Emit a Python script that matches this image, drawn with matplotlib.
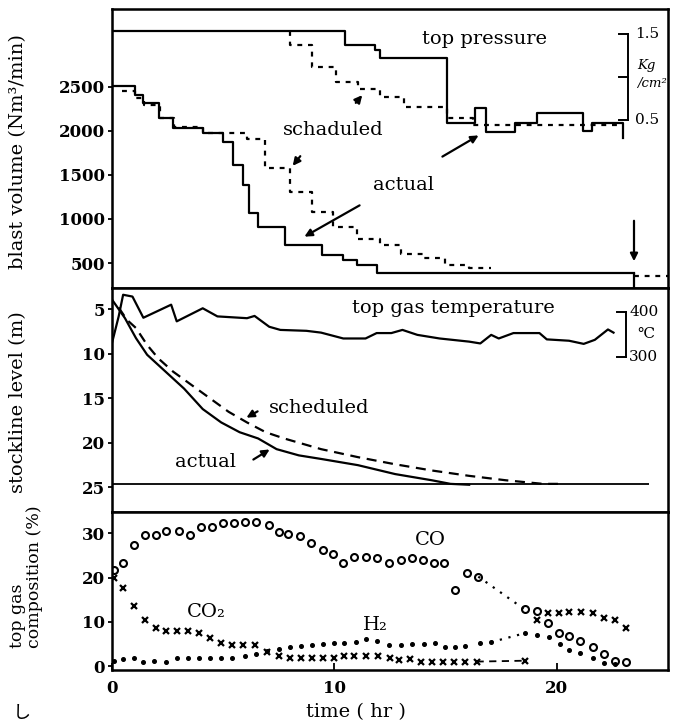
import matplotlib.pyplot as plt
from matplotlib.transforms import blended_transform_factory

plt.rcParams['font.family'] = ['DejaVu Serif', 'DejaVu Sans']

# ---- values, time in hr ----
# blast volume (Nm3/min), step changes (value holds until next time)
blast_act_t = [0, 1.03, 1.39, 2.11, 2.74, 4.09, 4.99, 5.44, 5.89, 6.15, 6.56, 7.78, 9.44, 10.39, 11.0, 11.9, 23.46]
blast_act_v = [2511, 2409, 2318, 2148, 2034, 1977, 1875, 1614, 1387, 1069, 910, 705, 591, 534, 478, 386, 386]
blast_sch_t = [0.45, 1.05, 1.45, 2.15, 2.8, 4.09, 6.07, 6.88, 8.0, 9.0, 9.94, 11.0, 12.05, 13.0, 13.98, 14.98, 16.06, 17.05]
blast_sch_v = [2455, 2380, 2290, 2150, 2040, 1977, 1909, 1580, 1307, 1080, 910, 773, 705, 600, 557, 478, 444, 444]
blast_tail_t = [23.46, 25.0]
blast_tail_v = [352, 352]

# top pressure (kg/cm2)
pres_act_t = [0, 10.48, 11.81, 12.06, 15.06, 16.31, 16.81, 18.14, 19.13, 21.2, 21.6, 22.96]
pres_act_v = [1.535, 1.372, 1.314, 1.217, 0.462, 0.636, 0.364, 0.462, 0.578, 0.376, 0.462, 0.29]
pres_sch_t = [7.99, 7.99, 8.99, 10.07, 11.06, 12.06, 13.14, 15.06, 16.22, 23.04]
pres_sch_v = [1.535, 1.372, 1.116, 0.942, 0.86, 0.767, 0.651, 0.523, 0.44, 0.44]

# stockline level (m)
stock_act_t = [0, 0.58, 1.08, 1.58, 2.41, 3.24, 4.08, 4.91, 5.74, 6.57, 7.40, 8.40, 9.40, 11.06, 12.73, 14.39, 15.22, 16.06]
stock_act_v = [3.9, 5.98, 8.24, 10.1, 12.0, 13.9, 16.2, 17.7, 18.8, 19.5, 20.7, 21.4, 21.8, 22.5, 23.5, 24.2, 24.6, 24.7]
stock_sch_t = [0.3, 0.67, 1.08, 1.58, 2.08, 2.75, 3.58, 4.41, 5.24, 6.07, 6.91, 7.74, 9.40, 11.06, 12.73, 14.39, 16.06, 17.72, 19.38, 20.05]
stock_sch_v = [4.8, 6.17, 7.1, 9.0, 10.5, 12.0, 13.5, 15.0, 16.5, 17.7, 18.8, 19.5, 20.7, 21.6, 22.4, 23.1, 23.7, 24.2, 24.6, 24.6]
stock_floor = 24.6
stock_floor_end = 24.13

# top gas temperature (C)
temp_t = [0, 0.3, 0.5, 0.92, 1.41, 2.66, 2.91, 4.08, 4.74, 6.07, 6.41, 7.07, 7.57, 8.74, 9.40, 10.40, 11.40, 11.90,
          12.56, 13.06, 13.73, 14.73, 16.06, 16.56, 17.05, 17.39, 18.05, 19.22, 19.55, 20.55, 21.21, 21.71, 22.30, 22.55]
temp_v = [331, 390, 438, 434, 387, 416, 379, 408, 390, 386, 391, 367, 360, 358, 354, 341, 341, 353,
          353, 360, 349, 341, 334, 330, 349, 341, 353, 353, 339, 336, 329, 338, 361, 354]

# top gas composition (%)
co_t = [0.08, 0.50, 1.00, 1.50, 2.00, 2.41, 3.00, 3.49, 3.99, 4.49, 4.99, 5.49, 5.96, 6.46, 7.04, 7.49, 7.90, 8.45,
        8.95, 9.48, 9.93, 10.40, 10.90, 11.40, 11.90, 12.45, 12.98, 13.48, 13.98, 14.48, 14.93, 15.42, 15.97, 16.47,
        18.55, 19.10, 19.60, 20.10, 20.55, 21.05, 21.63, 22.10, 22.60, 23.13]
co_v = [21.7, 23.2, 27.3, 29.5, 29.5, 30.5, 30.5, 29.5, 31.4, 31.5, 32.3, 32.4, 32.5, 32.5, 31.8, 30.3, 29.9, 29.3,
        27.7, 26.3, 25.3, 23.2, 24.7, 24.7, 24.3, 23.2, 23.9, 24.3, 23.9, 23.3, 23.2, 17.2, 21.1, 20.2,
        12.8, 12.4, 9.8, 7.5, 6.8, 5.7, 4.2, 2.7, 1.2, 0.8]
co2_t = [0.08, 0.50, 1.00, 1.50, 2.00, 2.41, 2.91, 3.41, 3.91, 4.41, 4.91, 5.41, 5.91, 6.41, 6.99, 7.49, 7.99, 8.49,
         8.99, 9.48, 9.98, 10.45, 10.90, 11.40, 11.98, 12.48, 12.90, 13.39, 13.89, 14.39, 14.89, 15.39, 15.89, 16.39,
         18.55, 19.10, 19.60, 20.10, 20.55, 21.10, 21.63, 22.13, 22.63, 23.13]
co2_v = [19.8, 17.6, 13.5, 10.5, 8.7, 7.9, 7.9, 7.9, 7.4, 6.4, 5.3, 4.7, 4.7, 4.7, 3.1, 2.3, 1.7, 1.7,
         1.7, 1.7, 1.9, 2.3, 2.3, 2.3, 2.3, 1.7, 1.4, 1.6, 1.0, 0.8, 1.0, 1.0, 1.0, 1.0,
         1.2, 10.5, 12.0, 12.0, 12.1, 12.1, 12.0, 10.9, 10.5, 8.7]
h2_t = [0.08, 0.50, 1.00, 1.41, 1.91, 2.41, 2.91, 3.41, 3.91, 4.41, 4.91, 5.41, 5.96, 6.46, 6.99, 7.49, 7.99, 8.49,
        8.99, 9.48, 9.98, 10.45, 10.95, 11.40, 11.90, 12.45, 12.98, 13.48, 14.03, 14.51, 14.98, 15.42, 15.89, 16.56,
        17.05, 18.55, 19.13, 19.63, 20.13, 20.55, 21.05, 21.63, 22.13, 22.63]
h2_v = [1.2, 1.6, 1.9, 0.8, 1.2, 0.8, 1.7, 1.7, 1.7, 1.7, 1.7, 1.7, 2.3, 2.8, 3.4, 3.8, 4.4, 4.5,
        4.7, 4.9, 5.1, 5.3, 5.5, 6.0, 5.7, 4.7, 4.7, 4.9, 4.9, 5.3, 4.3, 4.3, 4.5, 5.1,
        5.4, 7.4, 6.9, 6.6, 4.9, 3.6, 2.9, 1.7, 0.7, 0.4]

W, H = 679, 726


def fx(px):
    return px / W


def fy(py):
    return 1 - py / H


fig = plt.figure(figsize=(W / 100, H / 100), dpi=100)
L, R = 112, 668
ax1 = fig.add_axes([fx(L), fy(288), fx(R) - fx(L), fy(9) - fy(288)])
ax2 = fig.add_axes([fx(L), fy(512), fx(R) - fx(L), fy(288) - fy(512)])
ax3 = fig.add_axes([fx(L), fy(670), fx(R) - fx(L), fy(512) - fy(670)])

LW = 1.6
NOTE = 14

for ax in (ax1, ax2, ax3):
    ax.set_xlim(0, 25)
    for sp in ax.spines.values():
        sp.set_linewidth(1.8)
    ax.tick_params(axis='y', direction='out', length=3, width=1.3, pad=2, labelsize=12)

# ---- panel 1: blast volume and top pressure ----
b_lo, b_hi = 216, 3386
ax1.set_ylim(b_lo, b_hi)
ax1.plot(blast_act_t, blast_act_v, color='k', lw=LW, drawstyle='steps-post')
ax1.vlines(blast_act_t[-1], b_lo, blast_act_v[-1], color='k', lw=LW)
ax1.plot(blast_sch_t, blast_sch_v, color='k', lw=LW, ls=(0, (2.2, 2.6)), drawstyle='steps-post')
ax1.plot(blast_tail_t, blast_tail_v, color='k', lw=LW, ls=(0, (2.2, 2.6)))
ax1.set_yticks([500, 1000, 1500, 2000, 2500])
ax1.tick_params(axis='x', bottom=False, labelbottom=False)

axp = ax1.twinx()
axp.set_ylim(-1.453, 1.79)
axp.plot(pres_act_t, pres_act_v, color='k', lw=LW, drawstyle='steps-post')
axp.plot(pres_sch_t, pres_sch_v, color='k', lw=LW, ls=(0, (2.2, 2.6)), drawstyle='steps-post')
axp.set_yticks([])
tr = blended_transform_factory(axp.transAxes, axp.transData)
xb = (628 - L) / (R - L)
tl = 9 / (R - L)
axp.plot([xb, xb], [0.5, 1.5], color='k', lw=1.4, transform=tr)
for v in (0.5, 1.0, 1.5):
    axp.plot([xb - tl, xb], [v, v], color='k', lw=1.4, transform=tr)
axp.text(xb + 0.012, 1.5, '1.5', transform=tr, ha='left', va='center', fontsize=11)
axp.text(xb + 0.012, 0.5, '0.5', transform=tr, ha='left', va='center', fontsize=11)
fig.text(fx(646), fy(66), 'Kg', fontsize=9.5, ha='center', va='center', style='italic')
fig.text(fx(652), fy(84), '/cm²', fontsize=9.5, ha='center', va='center', style='italic')

fig.text(fx(484), fy(39), 'top pressure', fontsize=NOTE, ha='center', va='center')
fig.text(fx(333), fy(130), 'schaduled', fontsize=NOTE, ha='center', va='center')
fig.text(fx(403), fy(185), 'actual', fontsize=NOTE, ha='center', va='center')
arrow = dict(arrowstyle='-|>', color='k', lw=1.6, mutation_scale=11)
for head, tail in [((364, 93), (354, 105)), ((291, 168), (302, 154)), ((302, 238), (362, 204)),
                   ((481, 134), (440, 158)), ((634, 264), (634, 218)),
                   ((244, 419), (260, 410)), ((272, 448), (251, 461))]:
    fig.add_artist(plt.Annotation('', xy=(fx(head[0]), fy(head[1])), xytext=(fx(tail[0]), fy(tail[1])),
                                  xycoords='figure fraction', arrowprops=arrow))

# ---- panel 2: stockline level and top gas temperature ----
ax2.set_ylim(27.76, 2.6)
ax2.plot(stock_act_t, stock_act_v, color='k', lw=LW)
ax2.plot(stock_sch_t, stock_sch_v, color='k', lw=LW, ls=(0, (4.5, 3)))
ax2.hlines(stock_floor, 0, stock_floor_end, color='k', lw=1.3)
ax2.set_yticks([5, 10, 15, 20, 25])
ax2.tick_params(axis='x', bottom=False, labelbottom=False)

axt = ax2.twinx()
axt.set_ylim(-44, 453)
axt.plot(temp_t, temp_v, color='k', lw=LW)
axt.set_yticks([])
tr2 = blended_transform_factory(axt.transAxes, axt.transData)
xb2 = (626 - L) / (R - L)
axt.plot([xb2, xb2], [300, 400], color='k', lw=1.4, transform=tr2)
for v in (300, 400):
    axt.plot([xb2 - tl, xb2], [v, v], color='k', lw=1.4, transform=tr2)
axt.text(xb2 + 0.006, 400, '400', transform=tr2, ha='left', va='center', fontsize=11)
axt.text(xb2 + 0.006, 300, '300', transform=tr2, ha='left', va='center', fontsize=11)
axt.text(xb2 + 0.02, 350, '℃', transform=tr2, ha='left', va='center', fontsize=11)

fig.text(fx(453), fy(308), 'top gas temperature', fontsize=NOTE, ha='center', va='center')
fig.text(fx(319), fy(408), 'scheduled', fontsize=NOTE, ha='center', va='center')
fig.text(fx(206), fy(462), 'actual', fontsize=NOTE, ha='center', va='center')

# ---- panel 3: top gas composition ----
ax3.set_ylim(-0.9, 34.8)
ax3.plot(co_t, co_v, ls='none', marker='o', ms=5, mfc='none', mec='k', mew=1.5)
ax3.plot(co_t[33:35], co_v[33:35], color='k', lw=1.6, ls=(0, (1, 3)))
ax3.plot(co2_t, co2_v, ls='none', marker='x', ms=5, mec='k', mew=1.6)
ax3.plot(co2_t[33:35], co2_v[33:35], color='k', lw=1.3, ls=(0, (4, 3)))
ax3.plot(h2_t, h2_v, ls='none', marker='o', ms=2.6, color='k')
ax3.plot(h2_t[34:36], h2_v[34:36], color='k', lw=1.6, ls=(0, (1, 3)))
ax3.set_yticks([0, 10, 20, 30])
ax3.set_xticks([0, 10, 20])
ax3.tick_params(axis='x', direction='in', length=5, width=1.3, pad=7, labelsize=12)

for ax in (ax1, ax2, ax3):
    for lab in ax.get_yticklabels() + ax.get_xticklabels():
        lab.set_fontweight('bold')

fig.text(fx(430), fy(540), 'CO', fontsize=14, ha='center', va='center')
fig.text(fx(206), fy(612), 'CO₂', fontsize=14, ha='center', va='center')
fig.text(fx(375), fy(625), 'H₂', fontsize=14, ha='center', va='center')

# ---- axis titles ----
fig.text(fx(18), fy(152), 'blast volume (Nm³/min)', rotation=90, fontsize=14, ha='center', va='center')
fig.text(fx(18), fy(402), 'stockline level (m)', rotation=90, fontsize=14, ha='center', va='center')
fig.text(fx(26), fy(648), 'top gas\ncomposition (%)', rotation=90, fontsize=12.5, ha='center', va='bottom',
         multialignment='left', linespacing=1.0)
fig.text(fx(356), fy(712), 'time ( hr )', fontsize=14, ha='center', va='center')
fig.text(fx(22), fy(713), 'し', fontsize=13, ha='center', va='center', family=['Noto Sans CJK JP'])

fig.savefig('out.png', dpi=100)
